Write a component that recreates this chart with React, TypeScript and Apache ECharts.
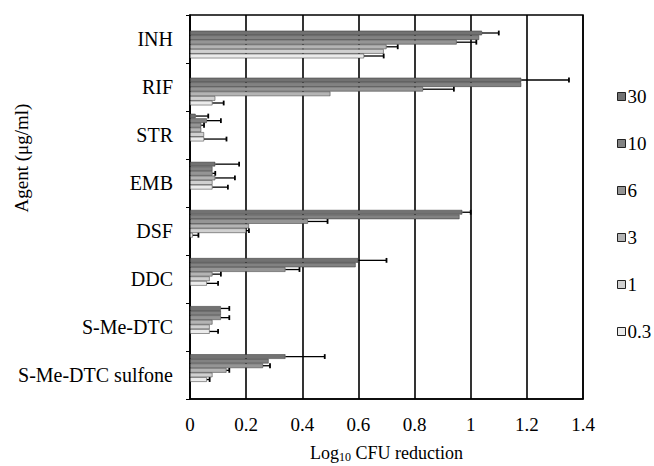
import React, { useEffect, useRef } from "react";
import * as echarts from "echarts";

const categories = ["INH", "RIF", "STR", "EMB", "DSF", "DDC", "S-Me-DTC", "S-Me-DTC sulfone"];
const concentrations = ["30", "10", "6", "3", "1", "0.3"];

const v30 = [1.04, 1.18, 0.02, 0.09, 0.97, 0.6, 0.11, 0.34];
const e30 = [0.06, 0.17, 0.045, 0.085, 0.03, 0.1, 0.03, 0.14];
const v10 = [1.03, 1.18, 0.06, 0.08, 0.96, 0.59, 0.11, 0.28];
const e10 = [0, 0, 0.05, 0, 0, 0, 0, 0];
const v6 = [0.95, 0.83, 0.04, 0.08, 0.42, 0.34, 0.11, 0.26];
const e6 = [0.07, 0.11, 0.01, 0.01, 0.07, 0.05, 0.03, 0.025];
const v3 = [0.7, 0.5, 0.04, 0.09, 0.21, 0.08, 0.08, 0.13];
const e3 = [0.04, 0, 0, 0.07, 0, 0.03, 0, 0.01];
const v1 = [0.69, 0.09, 0.05, 0.08, 0.2, 0.07, 0.07, 0.08];
const e1 = [0, 0, 0, 0, 0.01, 0, 0, 0];
const v03 = [0.62, 0.08, 0.05, 0.08, 0.01, 0.06, 0.07, 0.06];
const e03 = [0.07, 0.04, 0.08, 0.055, 0.02, 0.04, 0.03, 0.01];

const xTicks = [0, 0.2, 0.4, 0.6, 0.8, 1, 1.2, 1.4];

const values = [v30, v10, v6, v3, v1, v03];
const errors = [e30, e10, e6, e3, e1, e03];
const colors = ["#727272", "#828282", "#959595", "#b4b4b4", "#d0d0d0", "#ebebeb"];

const FONT = '"Liberation Serif", "Times New Roman", serif';
const BAR_W = 4.6;

export default function App() {
  const ref = useRef<HTMLDivElement>(null);
  useEffect(() => {
    const chart = echarts.init(ref.current!, null, { renderer: "svg" });

    const groups = [
      { grid: 1, from: 0, to: 2 },
      { grid: 2, from: 2, to: 8 },
    ];

    const series: any[] = [];
    groups.forEach((g) => {
      concentrations.forEach((c, s) => {
        series.push({
          type: "bar",
          name: c,
          xAxisIndex: g.grid,
          yAxisIndex: g.grid,
          data: values[s].slice(g.from, g.to),
          barWidth: BAR_W,
          barGap: "0%",
          itemStyle: { color: colors[s], borderColor: "#333", borderWidth: 0.5 },
          silent: true,
        });
      });
      const errData: any[] = [];
      concentrations.forEach((c, s) => {
        for (let i = g.from; i < g.to; i++) {
          if (errors[s][i] > 0) errData.push([values[s][i], i - g.from, errors[s][i], s]);
        }
      });
      series.push({
        type: "custom",
        xAxisIndex: g.grid,
        yAxisIndex: g.grid,
        silent: true,
        z: 5,
        encode: { x: 0, y: 1 },
        data: errData,
        renderItem: (params: any, api: any) => {
          const v = api.value(0);
          const c = api.value(1);
          const e = api.value(2);
          const s = api.value(3);
          const p0 = api.coord([v, c]);
          const p1 = api.coord([v + e, c]);
          const y = p0[1] + (s - 2.5) * BAR_W;
          return {
            type: "group",
            children: [
              { type: "line", shape: { x1: p0[0], y1: y, x2: p1[0], y2: y }, style: { stroke: "#000", lineWidth: 1.3 } },
              { type: "line", shape: { x1: p1[0], y1: y - 2.4, x2: p1[0], y2: y + 2.4 }, style: { stroke: "#000", lineWidth: 1.8 } },
            ],
          };
        },
      });
    });

    const hiddenX = (gi: number) => ({ gridIndex: gi, type: "value", min: 0, max: 1.4, show: false });

    chart.setOption({
      animation: false,
      backgroundColor: "#fff",
      grid: [
        { left: 190, right: 71, top: 15, bottom: 67, show: true, borderColor: "#000", borderWidth: 1.5, outerBoundsMode: "none" },
        { left: 190, right: 71, top: 21, height: 94, outerBoundsMode: "none" },
        { left: 190, right: 71, top: 103.5, height: 288.6, outerBoundsMode: "none" },
      ],
      xAxis: [
        {
          gridIndex: 0,
          type: "value",
          min: xTicks[0],
          max: xTicks[xTicks.length - 1],
          interval: 0.2,
          axisLine: { show: true, lineStyle: { color: "#000", width: 1.5 } },
          axisTick: { show: false },
          axisLabel: { fontSize: 19, margin: 16, color: "#000", fontFamily: FONT },
          splitLine: { show: true, lineStyle: { color: "#000", width: 1.6 } },
          name: "{a|Log}{b|10}{a| CFU reduction}",
          nameLocation: "middle",
          nameGap: 44,
          nameTextStyle: {
            rich: {
              a: { fontSize: 18, fontFamily: FONT, color: "#000", lineHeight: 20 },
              b: { fontSize: 12, fontFamily: FONT, color: "#000", lineHeight: 12, verticalAlign: "bottom" },
            },
          },
        },
        hiddenX(1),
        hiddenX(2),
      ],
      yAxis: [
        {
          gridIndex: 0,
          type: "category",
          data: categories,
          inverse: true,
          axisLine: { show: true, lineStyle: { color: "#000", width: 1.5 } },
          axisTick: { show: true, length: 4, lineStyle: { color: "#000" } },
          axisLabel: { fontSize: 20, margin: 17, color: "#000", fontFamily: FONT },
        },
        { gridIndex: 1, type: "category", data: categories.slice(0, 2), inverse: true, show: false },
        { gridIndex: 2, type: "category", data: categories.slice(2), inverse: true, show: false },
      ],
      legend: {
        data: concentrations,
        orient: "vertical",
        left: 612,
        top: 82,
        itemWidth: 8,
        itemHeight: 8,
        itemGap: 28,
        icon: "rect",
        itemStyle: { borderColor: "#222", borderWidth: 1 },
        textStyle: { fontSize: 19, color: "#000", fontFamily: FONT, padding: [0, 0, 0, -3] },
        selectedMode: false,
      },
      graphic: [
        {
          type: "text",
          x: 21,
          y: 158,
          rotation: Math.PI / 2,
          style: {
            text: "Agent (μg/ml)",
            fontSize: 19,
            fontFamily: FONT,
            fill: "#000",
            align: "center",
            verticalAlign: "middle",
          },
        },
      ],
      series,
    });
    return () => chart.dispose();
  }, []);
  return <div ref={ref} style={{ position: "fixed", left: 0, top: 0, width: 654, height: 466, background: "#fff" }} />;
}
